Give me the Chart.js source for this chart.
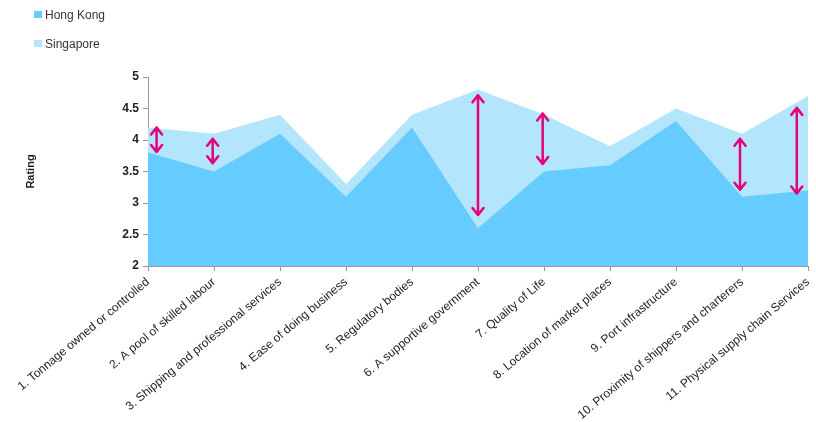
<!DOCTYPE html>
<html>
<head>
<meta charset="utf-8">
<script src="https://cdn.jsdelivr.net/npm/chart.js@4"></script>
<style>
  body { margin: 0; background: #fff; font-family: "Liberation Sans", Arial, sans-serif; }
  #wrap { position: relative; width: 816px; height: 422px; }
  #grafico { position: absolute; left: 0; top: 0; }
  .legenda { position: absolute; left: 34px; font-size: 12px; color: #333; line-height: 14px; }
  .legenda span { display: inline-block; width: 8px; height: 7px; margin-right: 3px; vertical-align: 1px; }
</style>
</head>
<body>
<div id="wrap">
  <canvas id="grafico" width="816" height="422"></canvas>
  <div class="legenda" style="top:8px"><span style="background:#66ccff"></span>Hong Kong</div>
  <div class="legenda" style="top:37px"><span style="background:#b3e5fc"></span>Singapore</div>
</div>
<script>
const categorias = [
  '1. Tonnage owned or controlled',
  '2. A pool of skilled labour',
  '3. Shipping and professional services',
  '4. Ease of doing business',
  '5. Regulatory bodies',
  '6. A supportive government',
  '7. Quality of Life',
  '8. Location of market places',
  '9. Port infrastructure',
  '10. Proximity of shippers and charterers',
  '11. Physical supply chain Services'
];
const hongKong = [3.8, 3.5, 4.1, 3.1, 4.2, 2.6, 3.5, 3.6, 4.3, 3.1, 3.2];
const singapore = [4.2, 4.1, 4.4, 3.3, 4.4, 4.8, 4.4, 3.9, 4.5, 4.1, 4.7];

// setas de diferenca: posicao (indice da categoria), topo e base em rating
const setaPosicao = [0.13, 0.98, 5, 5.98, 8.97, 9.83];
const setaTopo = [4.2, 4.02, 4.71, 4.42, 4.02, 4.51];
const setaBase = [3.81, 3.63, 2.81, 3.62, 3.21, 3.15];

const pluginSetas = {
  id: 'setas',
  afterDatasetsDraw(chart) {
    const ctx = chart.ctx;
    const x = chart.scales.x;
    const y = chart.scales.y;
    ctx.save();
    ctx.strokeStyle = '#e5007d';
    ctx.lineWidth = 2.5;
    ctx.lineCap = 'round';
    ctx.lineJoin = 'round';
    setaPosicao.forEach((p, i) => {
      const px = x.getPixelForValue(p);
      const y1 = y.getPixelForValue(setaTopo[i]);
      const y2 = y.getPixelForValue(setaBase[i]);
      ctx.beginPath();
      ctx.moveTo(px, y1);
      ctx.lineTo(px, y2);
      ctx.moveTo(px - 5.5, y1 + 7);
      ctx.lineTo(px, y1);
      ctx.lineTo(px + 5.5, y1 + 7);
      ctx.moveTo(px - 5.5, y2 - 7);
      ctx.lineTo(px, y2);
      ctx.lineTo(px + 5.5, y2 - 7);
      ctx.stroke();
    });
    ctx.restore();
  }
};

const ctx = document.getElementById('grafico').getContext('2d');

new Chart(ctx, {
  type: 'line',
  data: {
    labels: categorias,
    datasets: [
      {
        label: 'Hong Kong',
        data: hongKong,
        backgroundColor: '#66ccff',
        borderWidth: 0,
        pointRadius: 0,
        fill: 'start',
        tension: 0
      },
      {
        label: 'Singapore',
        data: singapore,
        backgroundColor: '#b3e5fc',
        borderWidth: 0,
        pointRadius: 0,
        fill: 'start',
        tension: 0
      }
    ]
  },
  options: {
    responsive: false,
    animation: false,
    layout: { padding: { top: 77, right: 8, left: 0, bottom: 0 } },
    plugins: {
      legend: { display: false },
      tooltip: { enabled: false }
    },
    scales: {
      x: {
        type: 'category',
        offset: false,
        border: { color: '#999', width: 1 },
        grid: { drawOnChartArea: false, tickLength: 5, color: '#999' },
        ticks: {
          autoSkip: false,
          maxRotation: 40,
          minRotation: 40,
          padding: 4,
          color: '#222',
          font: { family: 'Liberation Sans', size: 12 }
        },
        afterFit(scale) {
          scale.height = 156;
          scale.paddingRight = 0;
        }
      },
      y: {
        min: 2,
        max: 5,
        border: { color: '#999', width: 1 },
        grid: { drawOnChartArea: false, tickLength: 5, color: '#999' },
        ticks: {
          stepSize: 0.5,
          padding: 4,
          color: '#222',
          font: { family: 'Liberation Sans', size: 12, weight: 'bold' },
          callback: v => String(v)
        },
        title: {
          display: true,
          text: 'Rating',
          color: '#222',
          padding: { top: 24, bottom: 0 },
          font: { family: 'Liberation Sans', size: 11, weight: 'bold' }
        },
        afterFit(scale) { scale.width = 148; }
      }
    }
  },
  plugins: [pluginSetas]
});
</script>
</body>
</html>
